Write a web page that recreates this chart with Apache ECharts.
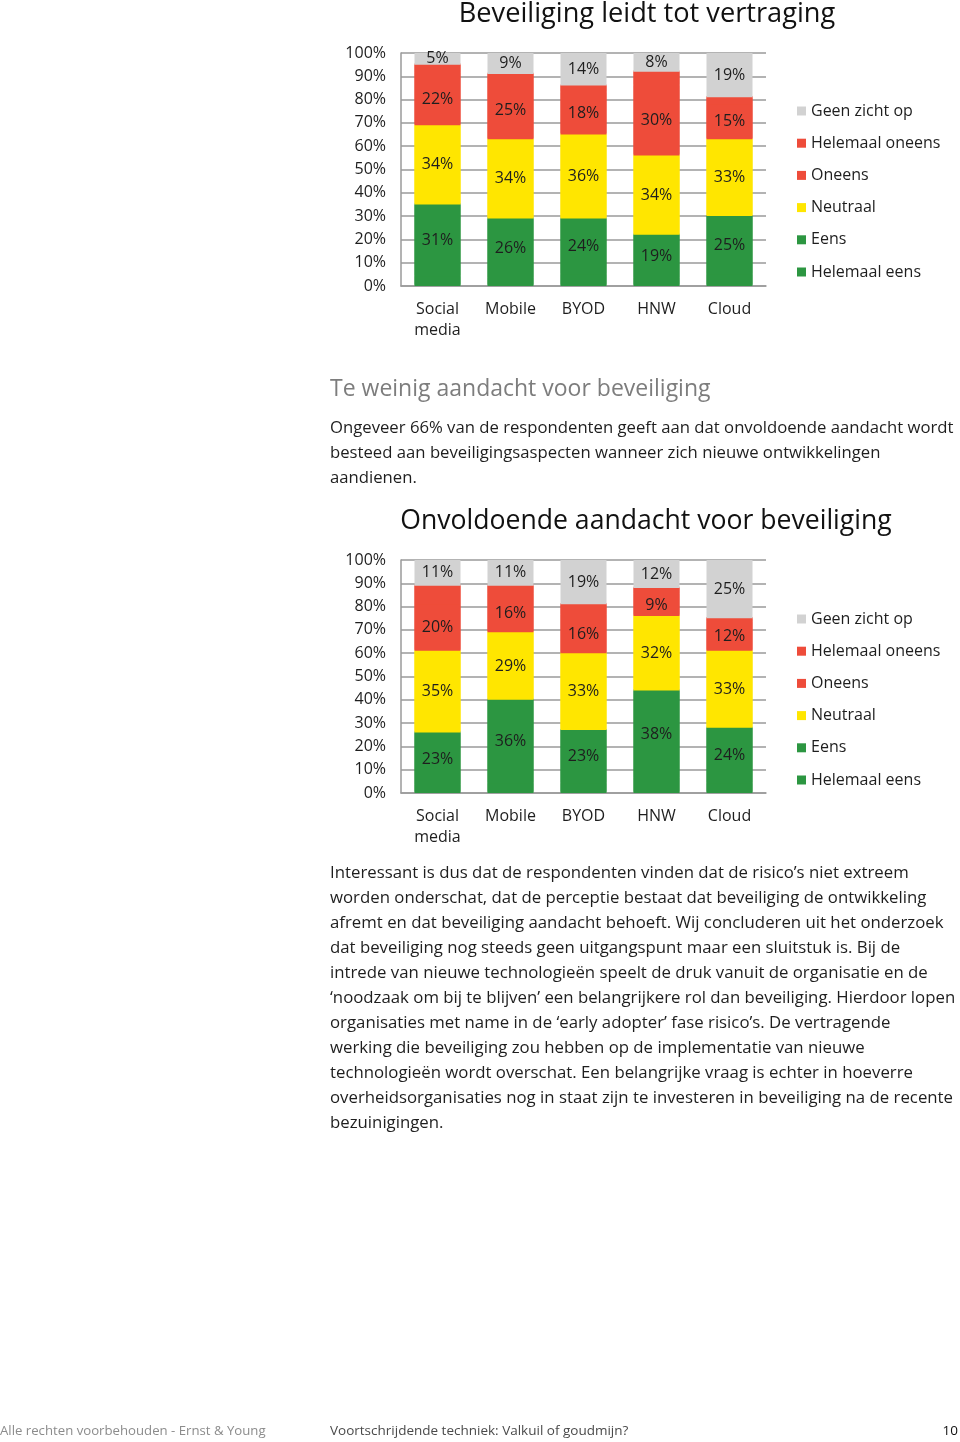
<!DOCTYPE html>
<html><head><meta charset="utf-8">
<script src="https://cdn.jsdelivr.net/npm/echarts@6/dist/echarts.min.js"></script>
<style>html,body{margin:0;padding:0;background:#fff}#c{width:960px;height:1442px}</style>
</head><body><div id="c"></div>
<script>
// ---------- data ----------
const categories = ['Social\nmedia', 'Mobile', 'BYOD', 'HNW', 'Cloud'];
const legendNames = ['Geen zicht op', 'Helemaal oneens', 'Oneens', 'Neutraal', 'Eens', 'Helemaal eens'];
const yTicks = [0, 10, 20, 30, 40, 50, 60, 70, 80, 90, 100];

// Chart 1: Beveiliging leidt tot vertraging
const c1HelemaalEens   = [4, 3, 5, 3, 5];
const c1Eens           = [31, 26, 24, 19, 25];
const c1Neutraal       = [34, 34, 36, 34, 33];
const c1Oneens         = [22, 25, 18, 30, 15];
const c1HelemaalOneens = [4, 3, 3, 6, 3];
const c1GeenZicht      = [5, 9, 14, 8, 19];

// Chart 2: Onvoldoende aandacht voor beveiliging
const c2HelemaalEens   = [3, 4, 4, 6, 4];
const c2Eens           = [23, 36, 23, 38, 24];
const c2Neutraal       = [35, 29, 33, 32, 33];
const c2Oneens         = [20, 16, 16, 9, 12];
const c2HelemaalOneens = [8, 4, 5, 3, 2];
const c2GeenZicht      = [11, 11, 19, 12, 25];

const title1 = 'Beveiliging leidt tot vertraging';
const title2 = 'Onvoldoende aandacht voor beveiliging';
const heading = 'Te weinig aandacht voor beveiliging';
const para1 = [
  'Ongeveer 66% van de respondenten geeft aan dat onvoldoende aandacht wordt',
  'besteed aan beveiligingsaspecten wanneer zich nieuwe ontwikkelingen',
  'aandienen.'
];
const para2 = [
  'Interessant is dus dat de respondenten vinden dat de risico\u2019s niet extreem',
  'worden onderschat, dat de perceptie bestaat dat beveiliging de ontwikkeling',
  'afremt en dat beveiliging aandacht behoeft. Wij concluderen uit het onderzoek',
  'dat beveiliging nog steeds geen uitgangspunt maar een sluitstuk is. Bij de',
  'intrede van nieuwe technologie\u00ebn speelt de druk vanuit de organisatie en de',
  '\u2018noodzaak om bij te blijven\u2019 een belangrijkere rol dan beveiliging. Hierdoor lopen',
  'organisaties met name in de \u2018early adopter\u2019 fase risico\u2019s. De vertragende',
  'werking die beveiliging zou hebben op de implementatie van nieuwe',
  'technologie\u00ebn wordt overschat. Een belangrijke vraag is echter in hoeverre',
  'overheidsorganisaties nog in staat zijn te investeren in beveiliging na de recente',
  'bezuinigingen.'
];
const footerLeft = 'Alle rechten voorbehouden - Ernst & Young';
const footerMid = 'Voortschrijdende techniek: Valkuil of goudmijn?';
const pageNo = '10';

// ---------- styling ----------
const FONT = '"Open Sans", sans-serif';
const GRAY = '#d2d2d2', RED = '#ee4c3a', YELLOW = '#ffe600', GREEN = '#2c9641';
const TXT = '#1e1e1e';

const chart = echarts.init(document.getElementById('c'), null, {renderer: 'canvas'});

function mkSeries(idx, dataSets) {
  const defs = [
    ['Helemaal eens', GREEN, false],
    ['Eens', GREEN, true],
    ['Neutraal', YELLOW, true],
    ['Oneens', RED, true],
    ['Helemaal oneens', RED, false],
    ['Geen zicht op', GRAY, true]
  ];
  return defs.map((d, i) => ({
    name: d[0], type: 'bar', stack: 's' + idx,
    xAxisIndex: idx, yAxisIndex: idx,
    barWidth: 46,
    data: dataSets[i],
    // an upward 1px same-colour shadow fills the anti-aliasing seam under the next segment
    itemStyle: i < 5
      ? {color: d[1], shadowColor: d[1], shadowBlur: 0, shadowOffsetX: 0, shadowOffsetY: -1.2}
      : {color: d[1]},
    label: {show: d[2], position: 'inside', formatter: '{c}%',
      fontFamily: FONT, fontSize: 16, color: TXT},
    emphasis: {disabled: true},
    animation: false
  }));
}

function mkX(idx) {
  return {type: 'category', gridIndex: idx, data: categories,
    axisLine: {lineStyle: {color: '#9a9a9a', width: 1.5}},
    axisTick: {show: false},
    axisLabel: {fontFamily: FONT, fontSize: 16, color: TXT, margin: 13, lineHeight: 21, interval: 0}};
}
function mkY(idx) {
  return {type: 'value', gridIndex: idx, min: 0, max: 100, interval: 10,
    axisLine: {show: true, lineStyle: {color: '#9a9a9a', width: 1.5}},
    axisTick: {show: false},
    splitLine: {lineStyle: {color: '#9a9a9a', width: 1.5}},
    axisLabel: {fontFamily: FONT, fontSize: 16, color: TXT, margin: 15,
      formatter: v => yTicks.includes(v) ? v + '%' : ''}};
}
function mkLegend(top) {
  return {orient: 'vertical', left: 792, top: top, itemWidth: 9, itemHeight: 9, itemGap: 16.2,
    icon: 'rect', data: legendNames, selectedMode: false,
    itemStyle: {shadowBlur: 0, shadowOffsetY: 0, shadowColor: 'transparent'},
    textStyle: {fontFamily: FONT, fontSize: 16, color: TXT}};
}

const graphics = [];
function txt(x, y, text, size, color, align, weight) {
  graphics.push({type: 'text', x: x, y: y, silent: true,
    style: {text: text, fontFamily: FONT, fontSize: size, fill: color,
      align: align || 'left', verticalAlign: 'middle', fontWeight: weight || 'normal'}});
}
txt(647, 14, title1, 27.2, '#111', 'center');
txt(646, 521, title2, 26.6, '#111', 'center');
txt(330, 389, heading, 23, '#7d7d7d');
para1.forEach((l, i) => txt(330, 428 + i * 25, l, 16.7, TXT));
para2.forEach((l, i) => txt(330, 873 + i * 25, l, 16.8, TXT));
txt(0, 1431, footerLeft, 13.2, '#8c8c8c');
txt(330, 1431, footerMid, 13.5, '#4a4a4a');
txt(958, 1431, pageNo, 13.5, '#111', 'right');

chart.setOption({
  animation: false,
  backgroundColor: '#fff',
  grid: [
    {left: 401, top: 53, width: 365, height: 233},
    {left: 401, top: 560, width: 365, height: 233}
  ],
  xAxis: [mkX(0), mkX(1)],
  yAxis: [mkY(0), mkY(1)],
  legend: [mkLegend(98), mkLegend(606)],
  series: mkSeries(0, [c1HelemaalEens, c1Eens, c1Neutraal, c1Oneens, c1HelemaalOneens, c1GeenZicht])
    .concat(mkSeries(1, [c2HelemaalEens, c2Eens, c2Neutraal, c2Oneens, c2HelemaalOneens, c2GeenZicht])),
  graphic: graphics
});
</script></body></html>
